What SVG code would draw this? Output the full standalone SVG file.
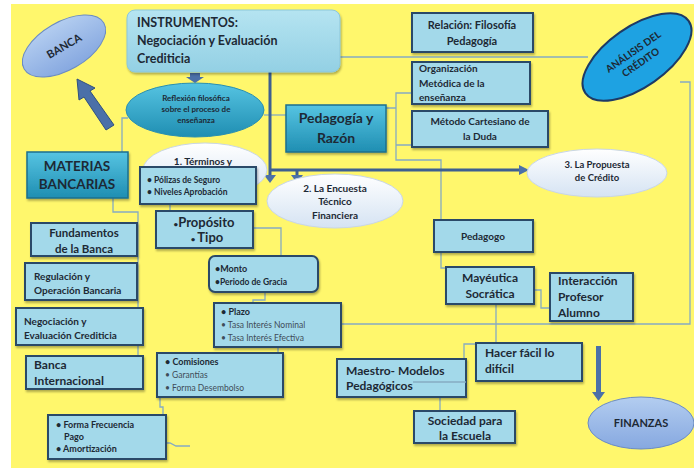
<svg xmlns="http://www.w3.org/2000/svg" width="694" height="476" viewBox="0 0 694 476">
<defs>
<style>
.t{font-family:Lato,"Liberation Sans",sans-serif;font-weight:bold;fill:#1d2935}
.n{font-family:Lato,"Liberation Sans",sans-serif;fill:#3f4c58}
.c{text-anchor:middle}
.box{fill:#a3d9ea;stroke:#2c4868;stroke-width:2}
.teal{fill:url(#gTeal);stroke:#1d6f8e;stroke-width:1.5}
.con{fill:none;stroke:#86abc2;stroke-width:1.3}
.thick{fill:none;stroke:#3d5f91;stroke-width:3}
.blk{fill:#4b70a8}
</style>
<linearGradient id="gTeal" x1="0" y1="0" x2="0" y2="1"><stop offset="0" stop-color="#56c4e2"/><stop offset="1" stop-color="#1f8eb2"/></linearGradient>
<linearGradient id="gWhite" x1="0" y1="0" x2="0" y2="1"><stop offset="0" stop-color="#ffffff"/><stop offset="1" stop-color="#d5e3f3"/></linearGradient>
<linearGradient id="gBlue" x1="0" y1="0" x2="0" y2="1"><stop offset="0" stop-color="#b3cdf0"/><stop offset="1" stop-color="#86a8e0"/></linearGradient>
<linearGradient id="gLight" x1="0" y1="0" x2="0" y2="1"><stop offset="0" stop-color="#b5e4f1"/><stop offset="1" stop-color="#93d0e4"/></linearGradient>
<filter id="sh" x="-10%" y="-10%" width="130%" height="140%"><feDropShadow dx="1" dy="2" stdDeviation="1.2" flood-color="#000" flood-opacity="0.3"/></filter>
</defs>
<rect x="0" y="0" width="694" height="476" fill="#ffffff"/>
<rect x="11" y="4" width="683" height="464" fill="#fff76c"/>

<g id="connectors">
<path class="con" d="M340 57 H588"/>
<path class="con" d="M680 82 H690 V324 H330"/>
<path class="con" d="M128 118 H122 V152"/>
<path class="con" d="M264 115 H286"/>
<path class="con" d="M386 108 H396 M412 93 H396 V160 H441 V268 H446 M396 145 H412"/>
<path class="con" d="M534 290 H541 V308 H550"/>
<path class="con" d="M496 304 V343 M476 344 H464 V359"/>
<path class="con" d="M440 397 V411"/>
<path class="con" d="M170 204 V211"/>
<path class="con" d="M253 228 H281 V256"/>
<path class="con" d="M265 292 V300 H253 V303"/>
<path class="con" d="M278 347 V353"/>
<path class="con" d="M160 397 V407 H163 V415"/>
<path class="con" d="M166 443 H170 L176 446 H190"/>
<path class="con" d="M113 198 V212 H138 V356"/>
<path class="thick" d="M270 72 V176"/>
<path class="thick" d="M270 170 H520"/>
<path class="thick" d="M297 170 V176"/>
<polygon class="blk" points="264,175 276,175 270,183"/>
<polygon class="blk" points="291,175 303,175 297,183"/>
<polygon class="blk" points="519,165 529,170 519,175"/>
<polygon class="blk" points="190,73 200,73 200,77 204,77 195,83 186,77 190,77"/>
<polygon class="blk" points="114,125 106,130 84,97 79,100 77,79 95,88 90,91" stroke="#2f4f80" stroke-width="1"/>
<polygon class="blk" points="596,346 601,346 601,392 605,392 598.5,401 592,392 596,392"/>
</g>

<g id="banca"><g transform="rotate(-30 64 46)"><ellipse cx="64" cy="46" rx="46" ry="24" fill="url(#gBlue)" stroke="#6a8bc4" stroke-width="1"/><text class="t c" x="64" y="50" font-size="11">BANCA</text></g></g>

<g id="instrumentos"><rect x="127" y="10" width="213" height="62" rx="8" fill="url(#gLight)" stroke="#8cc7da" stroke-width="1" filter="url(#sh)"/>
<text class="t" x="137" y="27" font-size="12.5">INSTRUMENTOS:</text>
<text class="t" x="137" y="45" font-size="12.5">Negociación y Evaluación</text>
<text class="t" x="137" y="63" font-size="12.5">Crediticia</text></g>

<g id="reflexion"><ellipse cx="195" cy="110" rx="69" ry="27" fill="url(#gTeal)" stroke="#2a8fb0" stroke-width="1"/>
<text class="t c" x="196" y="101" font-size="8">Reflexión filosófica</text>
<text class="t c" x="196" y="112" font-size="8">sobre el proceso de</text>
<text class="t c" x="196" y="123" font-size="8">enseñanza</text></g>

<g id="pedagogia-razon"><rect x="286" y="105" width="100" height="47" class="teal" filter="url(#sh)"/>
<text class="t c" x="336" y="123" font-size="14">Pedagogía y</text>
<text class="t c" x="336" y="143" font-size="14">Razón</text></g>

<g id="relacion"><rect x="412" y="13" width="121" height="39" class="box" filter="url(#sh)"/>
<text class="t c" x="472" y="29" font-size="11">Relación: Filosofía</text>
<text class="t c" x="472" y="45" font-size="11">Pedagogía</text></g>

<g id="organizacion"><rect x="412" y="62" width="118" height="42" class="box" filter="url(#sh)"/>
<text class="t" x="419" y="72" font-size="10">Organización</text>
<text class="t" x="419" y="87" font-size="10">Metódica de la</text>
<text class="t" x="419" y="101" font-size="10">enseñanza</text></g>

<g id="metodo"><rect x="412" y="111" width="136" height="36" class="box" filter="url(#sh)"/>
<text class="t c" x="480" y="125" font-size="10">Método Cartesiano de</text>
<text class="t c" x="480" y="140" font-size="10">la Duda</text></g>

<g id="analisis"><g transform="rotate(-35 637 57)"><ellipse cx="637" cy="57" rx="63" ry="30" fill="#1ea2e2" stroke="#1d3a66" stroke-width="2"/>
<text class="t c" x="637" y="54" font-size="10" fill="#1b2a55">ANÁLISIS DEL</text>
<text class="t c" x="637" y="67" font-size="10" fill="#1b2a55">CRÉDITO</text></g></g>

<g id="materias"><rect x="27" y="152" width="101" height="46" class="teal" filter="url(#sh)"/>
<text class="t c" x="77" y="171" font-size="13.5">MATERIAS</text>
<text class="t c" x="77" y="189" font-size="13.5">BANCARIAS</text></g>

<g id="terminos"><ellipse cx="205" cy="170" rx="62" ry="27" fill="url(#gWhite)" stroke="#c9d6e6" stroke-width="1"/>
<text class="t c" x="203" y="165" font-size="10">1. Términos y</text></g>

<g id="polizas"><rect x="140" y="167" width="116" height="37" class="box" filter="url(#sh)"/>
<text class="t" x="147" y="183" font-size="8.5">• Pólizas de Seguro</text>
<text class="t" x="147" y="195" font-size="8.5">• Niveles Aprobación</text></g>

<g id="proposito"><rect x="156" y="211" width="97" height="37" class="box" filter="url(#sh)"/>
<text class="t c" x="204" y="227" font-size="13"><tspan font-size="8">•</tspan>Propósito</text>
<text class="t c" x="207" y="242" font-size="13"><tspan font-size="8">• </tspan>Tipo</text></g>

<g id="encuesta"><ellipse cx="335" cy="201" rx="68" ry="27" fill="url(#gWhite)" stroke="#c9d6e6" stroke-width="1"/>
<text class="t c" x="335" y="192" font-size="10">2. La Encuesta</text>
<text class="t c" x="335" y="205" font-size="10">Técnico</text>
<text class="t c" x="335" y="219" font-size="10">Financiera</text></g>

<g id="propuesta"><ellipse cx="597" cy="173" rx="70" ry="24" fill="url(#gWhite)" stroke="#c9d6e6" stroke-width="1"/>
<text class="t c" x="597" y="168" font-size="9.5">3. La Propuesta</text>
<text class="t c" x="597" y="181" font-size="9.5">de Crédito</text></g>

<g id="pedagogo"><rect x="434" y="220" width="99" height="32" class="box" filter="url(#sh)"/>
<text class="t c" x="483" y="240" font-size="10">Pedagogo</text></g>

<g id="mayeutica"><rect x="446" y="267" width="88" height="37" class="box" filter="url(#sh)"/>
<text class="t c" x="490" y="282" font-size="12">Mayéutica</text>
<text class="t c" x="490" y="298" font-size="12">Socrática</text></g>

<g id="interaccion"><rect x="550" y="273" width="83" height="48" class="box" filter="url(#sh)"/>
<text class="t" x="558" y="285" font-size="12">Interacción</text>
<text class="t" x="558" y="301" font-size="12">Profesor</text>
<text class="t" x="558" y="317" font-size="12">Alumno</text></g>

<g id="monto"><rect x="209" y="256" width="109" height="36" rx="6" class="box" filter="url(#sh)"/>
<text class="t" x="215" y="272" font-size="9">•Monto</text>
<text class="t" x="215" y="285" font-size="8.5" font-weight="normal">•Periodo de Gracia</text></g>

<g id="plazo"><rect x="214" y="303" width="127" height="44" class="box" filter="url(#sh)"/>
<text class="t" x="221" y="315" font-size="9">• Plazo</text>
<text class="n" x="221" y="328" font-size="8.5">• Tasa Interés Nominal</text>
<text class="n" x="221" y="341" font-size="8.5">• Tasa Interés Efectiva</text></g>

<g id="comisiones"><rect x="157" y="353" width="126" height="44" class="box" filter="url(#sh)"/>
<text class="t" x="165" y="365" font-size="9">• Comisiones</text>
<text class="n" x="165" y="378" font-size="8.5">• Garantías</text>
<text class="n" x="165" y="391" font-size="8.5">• Forma Desembolso</text></g>

<g id="forma"><rect x="48" y="415" width="118" height="44" class="box" filter="url(#sh)"/>
<text class="t" x="56" y="428" font-size="9">• Forma Frecuencia</text>
<text class="t" x="64" y="440" font-size="9">Pago</text>
<text class="t" x="56" y="452" font-size="9">• Amortización</text></g>

<g id="fundamentos"><rect x="31" y="223" width="106" height="33" class="box" filter="url(#sh)"/>
<text class="t c" x="84" y="237" font-size="11.5">Fundamentos</text>
<text class="t c" x="84" y="253" font-size="11.5">de la Banca</text></g>

<g id="regulacion"><rect x="25" y="263" width="112" height="37" class="box" filter="url(#sh)"/>
<text class="t" x="34" y="280" font-size="10">Regulación y</text>
<text class="t" x="34" y="294" font-size="10">Operación Bancaria</text></g>

<g id="negociacion"><rect x="16" y="308" width="127" height="37" class="box" filter="url(#sh)"/>
<text class="t" x="24" y="325" font-size="10">Negociación  y</text>
<text class="t" x="24" y="339" font-size="10">Evaluación  Crediticia</text></g>

<g id="banca-internacional"><rect x="26" y="356" width="117" height="33" class="box" filter="url(#sh)"/>
<text class="t" x="34" y="369" font-size="12">Banca</text>
<text class="t" x="34" y="385" font-size="12">Internacional</text></g>

<g id="maestro"><rect x="337" y="359" width="129" height="38" class="box" filter="url(#sh)"/>
<path class="con" d="M413 382 H466"/>
<text class="t" x="346" y="375" font-size="12">Maestro- Modelos</text>
<text class="t" x="346" y="390" font-size="12">Pedagógicos</text></g>

<g id="hacer-facil"><rect x="476" y="343" width="106" height="38" class="box" filter="url(#sh)"/>
<text class="t" x="485" y="357" font-size="12">Hacer fácil lo</text>
<text class="t" x="485" y="373" font-size="12">difícil</text></g>

<g id="sociedad"><rect x="414" y="411" width="101" height="32" class="box" filter="url(#sh)"/>
<text class="t c" x="465" y="425" font-size="12">Sociedad para</text>
<text class="t c" x="465" y="440" font-size="12">la Escuela</text></g>

<g id="finanzas"><ellipse cx="641" cy="423" rx="53" ry="26" fill="url(#gBlue)" stroke="#6a8bc4" stroke-width="1"/>
<text class="t c" x="641" y="427" font-size="11">FINANZAS</text></g>
</svg>
